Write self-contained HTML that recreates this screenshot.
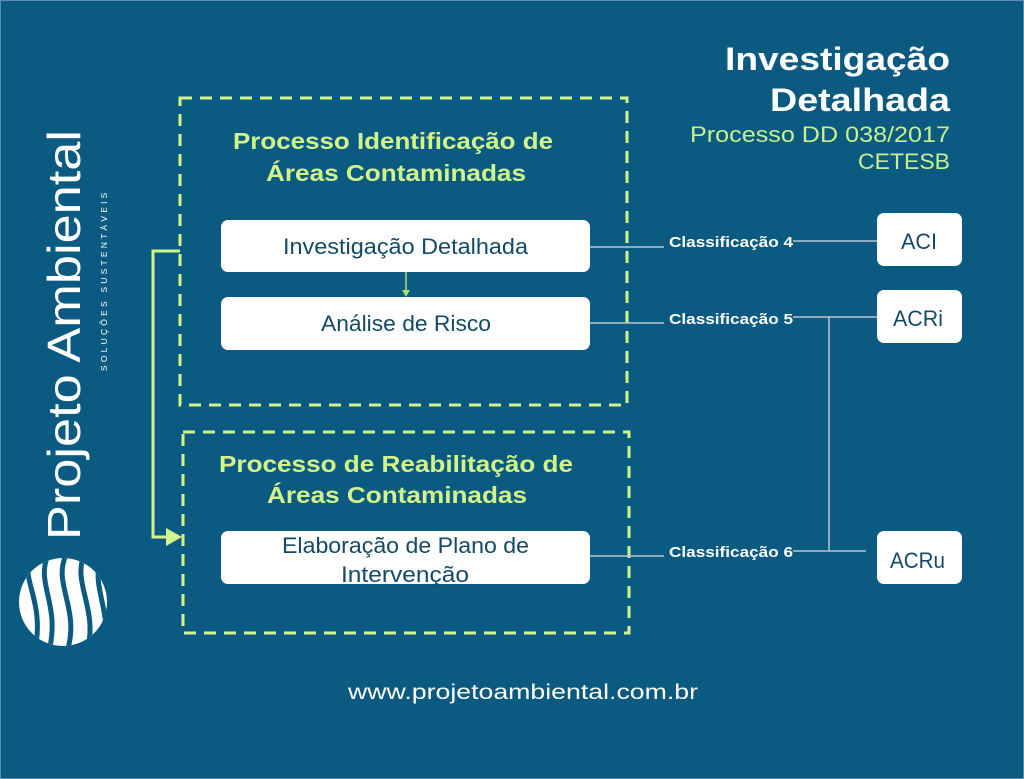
<!DOCTYPE html>
<html><head><meta charset="utf-8"><style>
html,body{margin:0;padding:0;background:#0b5a82;}
svg{display:block}
</style></head><body>
<svg width="1024" height="779" viewBox="0 0 1024 779" xmlns="http://www.w3.org/2000/svg">
<rect x="0" y="0" width="1024" height="779" fill="#0b5a82"/>
<rect x="0.5" y="0.5" width="1023" height="778" fill="none" stroke="#5b8db0" stroke-width="1"/>

<!-- Title -->
<g font-family="Liberation Sans, sans-serif" text-anchor="end">
<text x="950" y="70" font-size="32" font-weight="bold" fill="#fff" textLength="225" lengthAdjust="spacingAndGlyphs">Investigação</text>
<text x="950" y="111" font-size="32" font-weight="bold" fill="#fff" textLength="180" lengthAdjust="spacingAndGlyphs">Detalhada</text>
<text x="950" y="142" font-size="22" fill="#c8f08c" textLength="260" lengthAdjust="spacingAndGlyphs">Processo DD 038/2017</text>
<text x="950" y="169" font-size="22" fill="#c8f08c" textLength="92" lengthAdjust="spacingAndGlyphs">CETESB</text>
</g>

<!-- Vertical brand -->
<text transform="translate(80,540) rotate(-90)" font-family="Liberation Sans, sans-serif" font-size="46" fill="#fff" textLength="410" lengthAdjust="spacingAndGlyphs">Projeto Ambiental</text>
<text transform="translate(107,371) rotate(-90)" font-family="Liberation Sans, sans-serif" font-size="8.5" fill="#fff" letter-spacing="3.2">SOLUÇÕES SUSTENTÁVEIS</text>

<!-- Logo -->
<defs><clipPath id="c"><circle cx="63" cy="602" r="44"/></clipPath></defs>
<circle cx="63" cy="602" r="44" fill="#fff"/>
<g clip-path="url(#c)" fill="none" stroke="#0b5a82" stroke-width="5">
<path d="M30 555 C20 580 45 600 35 650"/>
<path d="M48 555 C35 585 62 605 48 655"/>
<path d="M66 555 C52 585 82 610 66 655"/>
<path d="M84 555 C72 585 100 610 86 655"/>
<path d="M100 560 C92 590 112 610 104 650"/>
</g>

<!-- dashed containers -->
<g fill="none" stroke="#d2f58a" stroke-width="3" stroke-dasharray="12,8">
<rect x="180" y="98" width="447" height="307"/>
<rect x="183" y="432" width="446" height="201"/>
</g>

<!-- green connector -->
<polyline points="180,251 153,251 153,537 168,537" fill="none" stroke="#d2f58a" stroke-width="3"/>
<polygon points="166,528 182,537 166,546" fill="#d2f58a"/>

<!-- section titles -->
<g font-family="Liberation Sans, sans-serif" font-weight="bold" font-size="23" fill="#d2f58a">
<text x="233" y="149" textLength="320" lengthAdjust="spacingAndGlyphs">Processo Identificação de</text>
<text x="266" y="181" textLength="260" lengthAdjust="spacingAndGlyphs">Áreas Contaminadas</text>
<text x="219" y="472" textLength="354" lengthAdjust="spacingAndGlyphs">Processo de Reabilitação de</text>
<text x="267" y="503" textLength="260" lengthAdjust="spacingAndGlyphs">Áreas Contaminadas</text>
</g>

<!-- white boxes -->
<g fill="#fff">
<rect x="221" y="220" width="369" height="52" rx="7"/>
<rect x="221" y="297" width="369" height="53" rx="7"/>
<rect x="221" y="531" width="369" height="53" rx="7"/>
<rect x="877" y="213" width="85" height="53" rx="7"/>
<rect x="877" y="290" width="85" height="53" rx="7"/>
<rect x="877" y="531" width="85" height="53" rx="7"/>
</g>
<line x1="406" y1="272" x2="406" y2="292" stroke="#a8e070" stroke-width="1.5"/>
<polygon points="402,290 410,290 406,297" fill="#a8e070"/>

<g font-family="Liberation Sans, DejaVu Sans, sans-serif" font-size="22" fill="#134a66">
<text x="283" y="254" textLength="245" lengthAdjust="spacingAndGlyphs">Investigação Detalhada</text>
<text x="321" y="331" textLength="170" lengthAdjust="spacingAndGlyphs">Análise de Risco</text>
<text x="282" y="553" textLength="247" lengthAdjust="spacingAndGlyphs">Elaboração de Plano de</text>
<text x="341" y="582" textLength="128" lengthAdjust="spacingAndGlyphs">Intervenção</text>
<text x="901" y="249" textLength="36" lengthAdjust="spacingAndGlyphs">ACI</text>
<text x="893" y="326" textLength="50" lengthAdjust="spacingAndGlyphs">ACRi</text>
<text x="890" y="568" textLength="55" lengthAdjust="spacingAndGlyphs">ACRu</text>
</g>

<!-- connectors -->
<g stroke="#b9c6cf" stroke-width="1.5" fill="none">
<line x1="590" y1="247" x2="664" y2="247"/>
<line x1="793" y1="241" x2="877" y2="241"/>
<line x1="590" y1="323" x2="664" y2="323"/>
<line x1="793" y1="317" x2="877" y2="317"/>
<line x1="590" y1="556" x2="664" y2="556"/>
<line x1="793" y1="551" x2="866" y2="551"/>
<line x1="829" y1="317" x2="829" y2="551"/>
</g>
<g font-family="Liberation Sans, sans-serif" font-weight="bold" font-size="15" fill="#fff">
<text x="669" y="247" textLength="124" lengthAdjust="spacingAndGlyphs">Classificação 4</text>
<text x="669" y="324" textLength="124" lengthAdjust="spacingAndGlyphs">Classificação 5</text>
<text x="669" y="557" textLength="124" lengthAdjust="spacingAndGlyphs">Classificação 6</text>
</g>

<text x="348" y="699" font-family="Liberation Sans, sans-serif" font-size="21" fill="#fff" textLength="350" lengthAdjust="spacingAndGlyphs">www.projetoambiental.com.br</text>
</svg>
</body></html>
